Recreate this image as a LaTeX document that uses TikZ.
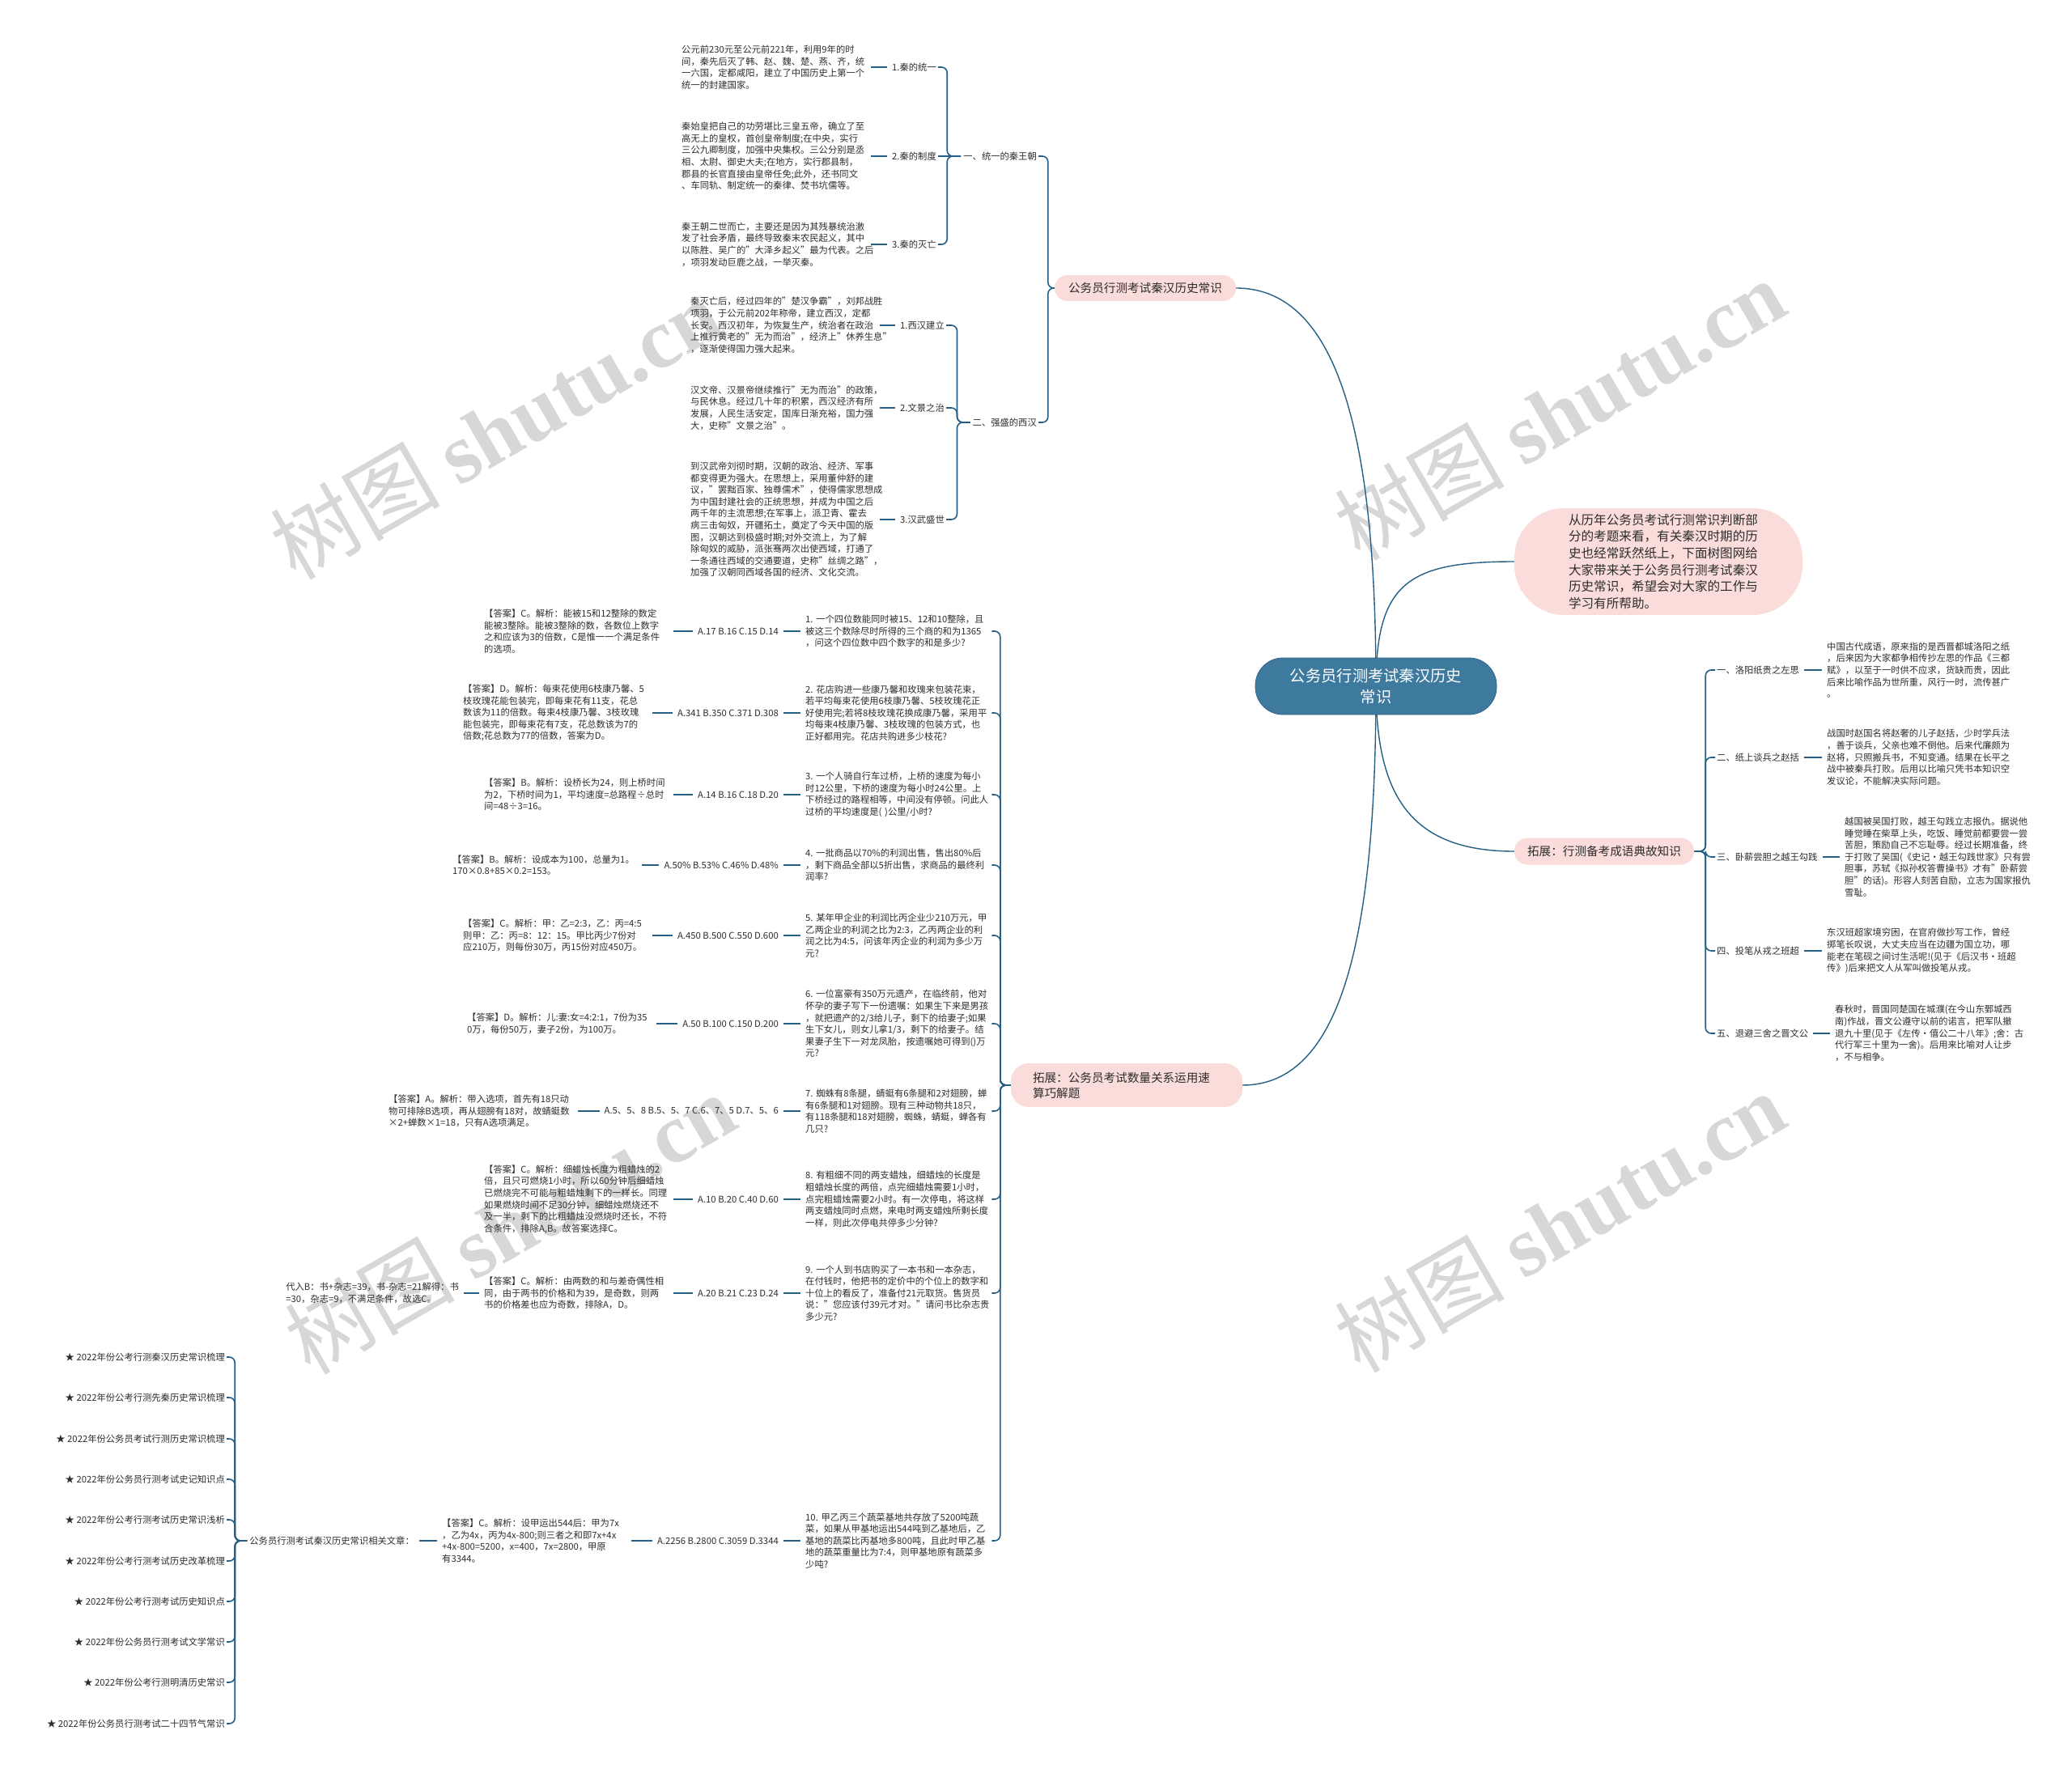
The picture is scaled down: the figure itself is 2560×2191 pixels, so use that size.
\documentclass[tikz,border=0pt]{standalone}
\usepackage{fontspec}
\setmainfont{Noto Sans CJK SC}
\newfontfamily\wmfont{Liberation Serif}
\usetikzlibrary{backgrounds}
\definecolor{linec}{RGB}{38,95,133}
\definecolor{pinkc}{RGB}{250,220,218}
\definecolor{rootc}{RGB}{62,121,158}
\definecolor{txtc}{RGB}{45,45,45}
\definecolor{wmc}{RGB}{215,215,215}
\newcommand\smf{\fontsize{11.3}{14.6}\selectfont\hyphenchar\font=-1\relax}
\newcommand\pf{\fontsize{14.6}{19}\selectfont}
\newcommand\wmf{\fontsize{105}{110}\selectfont}
\begin{document}
\begin{tikzpicture}[x=1pt,y=-1pt,
  conn/.style={draw=linec,line width=1.6pt,rounded corners=7pt},
  curve/.style={draw=linec,line width=1.4pt},
  leafl/.style={draw=linec,line width=1.6pt,shorten <=6pt,shorten >=6pt},
  sm/.style={inner sep=0pt,text=txtc,font=\smf},
  para/.style={sm,text width=228pt,align=left},
  pill/.style={fill=pinkc,rounded corners=16pt,inner sep=0pt,text=txtc,font=\pf},
  wm/.style={text=wmc,font=\wmf,rotate=30,inner sep=0pt}
]
\useasboundingbox (0,0) rectangle (2560,2191);

% ---------- root and main branches ----------
\node[fill=rootc,draw=rootc!85!black,line width=0.8pt,rounded corners=34pt,minimum width=298pt,minimum height=70pt,text=white,align=center,font=\fontsize{19.3}{26}\selectfont] (root) at (1700,848) {公务员行测考试秦汉历史\\常识};
\node[pill,minimum width=224pt,minimum height=32pt] (b1) at (1415,356) {公务员行测考试秦汉历史常识};
\node[pill,rounded corners=62pt,minimum width=356pt,minimum height=132pt,text width=222pt,align=left,font=\fontsize{15.6}{20.7}\selectfont] (intro) at (2049,694) {从历年公务员考试行测常识判断部\\分的考题来看，有关秦汉时期的历\\史也经常跃然纸上，下面树图网给\\大家带来关于公务员行测考试秦汉\\历史常识，希望会对大家的工作与\\学习有所帮助。};
\node[pill,minimum width=222pt,minimum height=33pt] (b3) at (1982,1052) {拓展：行测备考成语典故知识};
\node[pill,rounded corners=22pt,minimum width=286pt,minimum height=54pt,text width=232pt,align=left] (b4) at (1392,1341) {拓展：公务员考试数量关系运用速\\算巧解题};

% ---------- branch 1 ----------
\node[sm,anchor=east] (c11) at (1281,193) {一、统一的秦王朝};
\node[sm,anchor=east] (c12) at (1281,522) {二、强盛的西汉};
\node[sm,anchor=east] (c111) at (1157,83) {1.秦的统一};
\node[sm,anchor=east] (c112) at (1157,193) {2.秦的制度};
\node[sm,anchor=east] (c113) at (1157,302) {3.秦的灭亡};
\node[sm,anchor=east] (c121) at (1167,402) {1.西汉建立};
\node[sm,anchor=east] (c122) at (1167,504) {2.文景之治};
\node[sm,anchor=east] (c123) at (1167,642) {3.汉武盛世};
\node[para,anchor=west] (p111) at (842,83) {公元前230元至公元前221年，利用9年的时\\间，秦先后灭了韩、赵、魏、楚、燕、齐，统\\一六国，定都咸阳，建立了中国历史上第一个\\统一的封建国家。};
\node[para,anchor=west] (p112) at (842,193) {秦始皇把自己的功劳堪比三皇五帝，确立了至\\高无上的皇权，首创皇帝制度;在中央，实行\\三公九卿制度，加强中央集权。三公分别是丞\\相、太尉、御史大夫;在地方，实行郡县制，\\郡县的长官直接由皇帝任免;此外，还书同文\\、车同轨、制定统一的秦律、焚书坑儒等。};
\node[para,anchor=west] (p113) at (842,302) {秦王朝二世而亡，主要还是因为其残暴统治激\\发了社会矛盾，最终导致秦末农民起义，其中\\以陈胜、吴广的"大泽乡起义"最为代表。之后\\，项羽发动巨鹿之战，一举灭秦。};
\node[para,anchor=west] (p121) at (853,402) {秦灭亡后，经过四年的"楚汉争霸"，刘邦战胜\\项羽，于公元前202年称帝，建立西汉，定都\\长安。西汉初年，为恢复生产，统治者在政治\\上推行黄老的"无为而治"，经济上"休养生息"\\，逐渐使得国力强大起来。};
\node[para,anchor=west] (p122) at (853,504) {汉文帝、汉景帝继续推行"无为而治"的政策，\\与民休息。经过几十年的积累，西汉经济有所\\发展，人民生活安定，国库日渐充裕，国力强\\大，史称"文景之治"。};
\node[para,anchor=west] (p123) at (853,642) {到汉武帝刘彻时期，汉朝的政治、经济、军事\\都变得更为强大。在思想上，采用董仲舒的建\\议，"罢黜百家、独尊儒术"，使得儒家思想成\\为中国封建社会的正统思想，并成为中国之后\\两千年的主流思想;在军事上，派卫青、霍去\\病三击匈奴，开疆拓土，奠定了今天中国的版\\图，汉朝达到极盛时期;对外交流上，为了解\\除匈奴的威胁，派张骞两次出使西域，打通了\\一条通往西域的交通要道，史称"丝绸之路"，\\加强了汉朝同西域各国的经济、文化交流。};

% ---------- branch 4: questions ----------
\node[para,anchor=west] (q1) at (995,780) {1.~一个四位数能同时被15、12和10整除，且\\被这三个数除尽时所得的三个商的和为1365\\，问这个四位数中四个数字的和是多少?};
\node[para,anchor=west] (q2) at (995,881) {2.~花店购进一些康乃馨和玫瑰来包装花束，\\若平均每束花使用6枝康乃馨、5枝玫瑰花正\\好使用完;若将8枝玫瑰花换成康乃馨，采用平\\均每束4枝康乃馨、3枝玫瑰的包装方式，也\\正好都用完。花店共购进多少枝花?};
\node[para,anchor=west] (q3) at (995,982) {3.~一个人骑自行车过桥，上桥的速度为每小\\时12公里，下桥的速度为每小时24公里。上\\下桥经过的路程相等，中间没有停顿。问此人\\过桥的平均速度是(~)公里/小时?};
\node[para,anchor=west] (q4) at (995,1069) {4.~一批商品以70\%的利润出售，售出80\%后\\，剩下商品全部以5折出售，求商品的最终利\\润率?};
\node[para,anchor=west] (q5) at (995,1156) {5.~某年甲企业的利润比丙企业少210万元，甲\\乙两企业的利润之比为2:3，乙丙两企业的利\\润之比为4:5，问该年丙企业的利润为多少万\\元?};
\node[para,anchor=west] (q6) at (995,1265) {6.~一位富豪有350万元遗产，在临终前，他对\\怀孕的妻子写下一份遗嘱：如果生下来是男孩\\，就把遗产的2/3给儿子，剩下的给妻子;如果\\生下女儿，则女儿拿1/3，剩下的给妻子。结\\果妻子生下一对龙凤胎，按遗嘱她可得到()万\\元?};
\node[para,anchor=west] (q7) at (995,1373) {7.~蜘蛛有8条腿，蜻蜓有6条腿和2对翅膀，蝉\\有6条腿和1对翅膀。现有三种动物共18只，\\有118条腿和18对翅膀，蜘蛛，蜻蜓，蝉各有\\几只?};
\node[para,anchor=west] (q8) at (995,1482) {8.~有粗细不同的两支蜡烛，细蜡烛的长度是\\粗蜡烛长度的两倍，点完细蜡烛需要1小时，\\点完粗蜡烛需要2小时。有一次停电，将这样\\两支蜡烛同时点燃，来电时两支蜡烛所剩长度\\一样，则此次停电共停多少分钟?};
\node[para,anchor=west] (q9) at (995,1598) {9.~一个人到书店购买了一本书和一本杂志，\\在付钱时，他把书的定价中的个位上的数字和\\十位上的看反了，准备付21元取货。售货员\\说："您应该付39元才对。"请问书比杂志贵\\多少元?};
\node[para,anchor=west] (q10) at (995,1904) {10.~甲乙丙三个蔬菜基地共存放了5200吨蔬\\菜，如果从甲基地运出544吨到乙基地后，乙\\基地的蔬菜比丙基地多800吨，且此时甲乙基\\地的蔬菜重量比为7:4，则甲基地原有蔬菜多\\少吨?};

\node[sm,anchor=east] (o1) at (962,780) {A.17 B.16 C.15 D.14};
\node[sm,anchor=east] (o2) at (962,881) {A.341 B.350 C.371 D.308};
\node[sm,anchor=east] (o3) at (962,982) {A.14 B.16 C.18 D.20};
\node[sm,anchor=east] (o4) at (962,1069) {A.50\% B.53\% C.46\% D.48\%};
\node[sm,anchor=east] (o5) at (962,1156) {A.450 B.500 C.550 D.600};
\node[sm,anchor=east] (o6) at (962,1265) {A.50 B.100 C.150 D.200};
\node[sm,anchor=east] (o7) at (962,1373) {A.5、5、8 B.5、5、7 C.6、7、5 D.7、5、6};
\node[sm,anchor=east] (o8) at (962,1482) {A.10 B.20 C.40 D.60};
\node[sm,anchor=east] (o9) at (962,1598) {A.20 B.21 C.23 D.24};
\node[sm,anchor=east] (o10) at (962,1904) {A.2256 B.2800 C.3059 D.3344};

\node[para,anchor=west] (a1) at (598,780) {【答案】C。解析：能被15和12整除的数定\\能被3整除。能被3整除的数，各数位上数字\\之和应该为3的倍数，C是惟一一个满足条件\\的选项。};
\node[para,anchor=west] (a2) at (572,881) {【答案】D。解析：每束花使用6枝康乃馨、5\\枝玫瑰花能包装完，即每束花有11支，花总\\数该为11的倍数。每束4枝康乃馨、3枝玫瑰\\能包装完，即每束花有7支，花总数该为7的\\倍数;花总数为77的倍数，答案为D。};
\node[para,anchor=west] (a3) at (598,982) {【答案】B。解析：设桥长为24，则上桥时间\\为2，下桥时间为1，平均速度=总路程÷总时\\间=48÷3=16。};
\node[para,anchor=west] (a4) at (559,1069) {【答案】B。解析：设成本为100，总量为1。\\170×0.8+85×0.2=153。};
\node[para,anchor=west] (a5) at (572,1156) {【答案】C。解析：甲：乙=2:3，乙：丙=4:5\\则甲：乙：丙=8：12：15。甲比丙少7份对\\应210万，则每份30万，丙15份对应450万。};
\node[para,anchor=west] (a6) at (577,1265) {【答案】D。解析：儿:妻:女=4:2:1，7份为35\\0万，每份50万，妻子2份，为100万。};
\node[para,anchor=west] (a7) at (480,1373) {【答案】A。解析：带入选项，首先有18只动\\物可排除B选项，再从翅膀有18对，故蜻蜓数\\×2+蝉数×1=18，只有A选项满足。};
\node[para,anchor=west] (a8) at (598,1482) {【答案】C。解析：细蜡烛长度为粗蜡烛的2\\倍，且只可燃烧1小时，所以60分钟后细蜡烛\\已燃烧完不可能与粗蜡烛剩下的一样长。同理\\如果燃烧时间不足30分钟，细蜡烛燃烧还不\\及一半，剩下的比粗蜡烛没燃烧时还长，不符\\合条件，排除A,B。故答案选择C。};
\node[para,anchor=west] (a9) at (598,1598) {【答案】C。解析：由两数的和与差奇偶性相\\同，由于两书的价格和为39，是奇数，则两\\书的价格差也应为奇数，排除A，D。};
\node[para,anchor=west] (a10) at (546,1904) {【答案】C。解析：设甲运出544后：甲为7x\\，乙为4x，丙为4x-800;则三者之和即7x+4x\\+4x-800=5200，x=400，7x=2800，甲原\\有3344。};
\node[sm,anchor=east,align=left] (a9x) at (567,1598) {代入B：书+杂志=39，书-杂志=21解得：书\\=30，杂志=9，不满足条件，故选C。};
\node[sm,anchor=east] (r10) at (512,1904) {公务员行测考试秦汉历史常识相关文章：};

\node[sm,anchor=east] (s1) at (278,1677) {★ 2022年份公考行测秦汉历史常识梳理};
\node[sm,anchor=east] (s2) at (278,1727) {★ 2022年份公考行测先秦历史常识梳理};
\node[sm,anchor=east] (s3) at (278,1778) {★ 2022年份公务员考试行测历史常识梳理};
\node[sm,anchor=east] (s4) at (278,1828) {★ 2022年份公务员行测考试史记知识点};
\node[sm,anchor=east] (s5) at (278,1878) {★ 2022年份公考行测考试历史常识浅析};
\node[sm,anchor=east] (s6) at (278,1929) {★ 2022年份公考行测考试历史改革梳理};
\node[sm,anchor=east] (s7) at (278,1979) {★ 2022年份公考行测考试历史知识点};
\node[sm,anchor=east] (s8) at (278,2029) {★ 2022年份公务员行测考试文学常识};
\node[sm,anchor=east] (s9) at (278,2079) {★ 2022年份公考行测明清历史常识};
\node[sm,anchor=east] (s10) at (278,2130) {★ 2022年份公务员行测考试二十四节气常识};

% ---------- branch 3: idioms ----------
\node[sm,anchor=west] (k1) at (2121,828) {一、洛阳纸贵之左思};
\node[sm,anchor=west] (k2) at (2121,936) {二、纸上谈兵之赵括};
\node[sm,anchor=west] (k3) at (2121,1059) {三、卧薪尝胆之越王勾践};
\node[sm,anchor=west] (k4) at (2121,1175) {四、投笔从戎之班超};
\node[sm,anchor=west] (k5) at (2121,1277) {五、退避三舍之晋文公};
\node[para,anchor=west] (kt1) at (2257,828) {中国古代成语，原来指的是西晋都城洛阳之纸\\，后来因为大家都争相传抄左思的作品《三都\\赋》，以至于一时供不应求，货缺而贵，因此\\后来比喻作品为世所重，风行一时，流传甚广\\。};
\node[para,anchor=west] (kt2) at (2257,936) {战国时赵国名将赵奢的儿子赵括，少时学兵法\\，善于谈兵，父亲也难不倒他。后来代廉颇为\\赵将，只照搬兵书，不知变通。结果在长平之\\战中被秦兵打败。后用以比喻只凭书本知识空\\发议论，不能解决实际问题。};
\node[para,anchor=west] (kt3) at (2279,1059) {越国被吴国打败，越王勾践立志报仇。据说他\\睡觉睡在柴草上头，吃饭、睡觉前都要尝一尝\\苦胆，策励自己不忘耻辱。经过长期准备，终\\于打败了吴国(《史记·越王勾践世家》只有尝\\胆事，苏轼《拟孙权答曹操书》才有"卧薪尝\\胆"的话)。形容人刻苦自励，立志为国家报仇\\雪耻。};
\node[para,anchor=west] (kt4) at (2257,1175) {东汉班超家境穷困，在官府做抄写工作，曾经\\掷笔长叹说，大丈夫应当在边疆为国立功，哪\\能老在笔砚之间讨生活呢!(见于《后汉书·班超\\传》)后来把文人从军叫做投笔从戎。};
\node[para,anchor=west] (kt5) at (2267,1277) {春秋时，晋国同楚国在城濮(在今山东鄄城西\\南)作战，晋文公遵守以前的诺言，把军队撤\\退九十里(见于《左传·僖公二十八年》;舍：古\\代行军三十里为一舍)。后用来比喻对人让步\\，不与相争。};

% ---------- background: watermark and connectors ----------
\begin{scope}[on background layer]
\fill[white] (0,0) rectangle (2560,2191);
\node[wm] (w1) at (612,530) {树图 {\wmfont\bfseries shutu.cn}};
\node[wm] (w2) at (1927,506) {树图 {\wmfont\bfseries shutu.cn}};
\node[wm] (w3) at (630,1512) {树图 {\wmfont\bfseries shutu.cn}};
\node[wm] (w4) at (1927,1510) {树图 {\wmfont\bfseries shutu.cn}};

\draw[curve] (root.center) .. controls (1700,560) and (1660,356) .. (b1.east);
\draw[curve] (root.center) .. controls (1700,720) and (1740,694) .. (intro.west);
\draw[curve] (root.center) .. controls (1700,980) and (1740,1052) .. (b3.west);
\draw[curve] (root.center) .. controls (1700,1150) and (1660,1341) .. (b4.east);

\foreach \c in {c11,c12}
  \draw[conn] (b1.west) -- ++(-8,0) |- ([xshift=2pt]\c.east);
\foreach \c in {c111,c113}
  \draw[conn] ([xshift=-3pt]c11.west) -- ++(-17,0) |- ([xshift=2pt]\c.east);
\draw[conn] ([xshift=-3pt]c11.west) -- ([xshift=2pt]c112.east);
\foreach \c in {c121,c122,c123}
  \draw[conn] ([xshift=-3pt]c12.west) -- ++(-16,0) |- ([xshift=2pt]\c.east);
\foreach \p/\c in {p111/c111,p112/c112,p113/c113,p121/c121,p122/c122,p123/c123}
  \draw[leafl] (\p.east) -- (\c.west);

\foreach \i in {1,...,10}{
  \draw[conn] (b4.west) -- ++(-13,0) |- ([xshift=2pt]q\i.east);
  \draw[leafl] (o\i.east) -- (q\i.west);
  \draw[leafl] (a\i.east) -- (o\i.west);
}
\draw[leafl] (a9x.east) -- (a9.west);
\draw[leafl] (r10.east) -- (a10.west);
\foreach \i in {1,...,10}
  \draw[conn] ([xshift=-3pt]r10.west) -- ++(-15,0) |- ([xshift=2pt]s\i.east);

\foreach \i in {1,...,5}{
  \draw[conn] (b3.east) -- ++(14,0) |- ([xshift=-2pt]k\i.west);
  \draw[leafl] (k\i.east) -- (kt\i.west);
}
\end{scope}
\end{tikzpicture}
\end{document}
